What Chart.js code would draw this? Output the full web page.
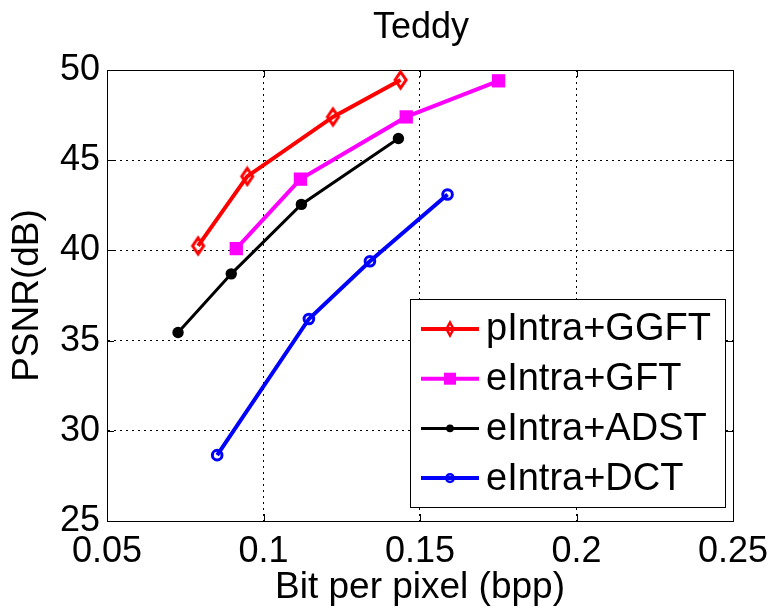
<!DOCTYPE html>
<html><head><meta charset="utf-8">
<script src="https://cdn.jsdelivr.net/npm/chart.js@4.4.1/dist/chart.umd.min.js"></script>
<style>html,body{margin:0;padding:0;background:#fff}#wrap{width:772px;height:608px}</style>
</head><body><div id="wrap"><canvas id="c" width="772" height="608"></canvas></div>
<script>
const chartTitle = 'Teddy';
const xTitle = 'Bit per pixel (bpp)';
const yTitle = 'PSNR(dB)';
const seriesNames = ['pIntra+GGFT', 'eIntra+GFT', 'eIntra+ADST', 'eIntra+DCT'];
const bppGGFT = [0.0791, 0.0948, 0.1222, 0.1438];
const psnrGGFT = [40.25, 44.1, 47.4, 49.45];
const bppGFT = [0.0913, 0.1118, 0.1456, 0.1751];
const psnrGFT = [40.1, 43.95, 47.4, 49.4];
const bppADST = [0.0727, 0.0897, 0.1121, 0.1431];
const psnrADST = [35.45, 38.7, 42.55, 46.2];
const bppDCT = [0.0852, 0.1145, 0.134, 0.1588];
const psnrDCT = [28.65, 36.2, 39.4, 43.1];
const xTickValues = [0.05, 0.1, 0.15, 0.2, 0.25];
const yTickValues = [25, 30, 35, 40, 45, 50];

const FONT = "'Liberation Sans', Arial, sans-serif";

function makeDiamond(w, h, lw, color) {
  const c = document.createElement('canvas');
  c.width = Math.ceil(w + lw * 2); c.height = Math.ceil(h + lw * 2);
  const g = c.getContext('2d');
  g.strokeStyle = color; g.lineWidth = lw;
  const cx = c.width / 2, cy = c.height / 2;
  g.beginPath();
  g.moveTo(cx, cy - h / 2); g.lineTo(cx + w / 2, cy); g.lineTo(cx, cy + h / 2); g.lineTo(cx - w / 2, cy);
  g.closePath(); g.stroke();
  return c;
}
const diamondBig = makeDiamond(11, 16, 3, '#ff0000');
const diamondSmall = makeDiamond(7, 13, 2.5, '#ff0000');

function pts(xs, ys) { return xs.map((x, i) => ({x: x, y: ys[i]})); }

const datasets = [
  {label: seriesNames[0], data: pts(bppGGFT, psnrGGFT), borderColor: '#ff0000', backgroundColor: 'transparent',
   borderWidth: 4, pointStyle: diamondBig, legendMarker: {type: 'img', img: diamondSmall}},
  {label: seriesNames[1], data: pts(bppGFT, psnrGFT), borderColor: '#ff00ff', backgroundColor: '#ff00ff',
   borderWidth: 4, pointStyle: 'rect', pointRadius: 9.4, pointBorderWidth: 0, pointBackgroundColor: '#ff00ff',
   legendMarker: {type: 'rect', size: 12, color: '#ff00ff'}},
  {label: seriesNames[2], data: pts(bppADST, psnrADST), borderColor: '#000000', backgroundColor: '#000000',
   borderWidth: 3, pointStyle: 'circle', pointRadius: 5.7, pointBorderWidth: 0, pointBackgroundColor: '#000000',
   legendMarker: {type: 'dot', r: 3.8, color: '#000000'}},
  {label: seriesNames[3], data: pts(bppDCT, psnrDCT), borderColor: '#0000ff', backgroundColor: 'transparent',
   borderWidth: 4, pointStyle: 'circle', pointRadius: 4.8, pointBorderWidth: 3, pointBackgroundColor: 'transparent',
   legendMarker: {type: 'ring', r: 3.8, lw: 2.5, color: '#0000ff'}}
];
datasets.forEach(d => { d.showLine = true; d.tension = 0; d.pointBorderColor = d.borderColor; d.clip = false; });

const framePlugin = {
  id: 'frame',
  beforeDatasetsDraw(chart) {
    const {ctx, chartArea: a, scales} = chart;
    ctx.save();
    ctx.strokeStyle = '#000'; ctx.lineWidth = 1;
    ctx.strokeRect(Math.round(a.left) + 0.5, Math.round(a.top) + 0.5, Math.round(a.right - a.left), Math.round(a.bottom - a.top));
    const tl = 7;
    ctx.beginPath();
    xTickValues.forEach(v => {
      const px = Math.round(scales.x.getPixelForValue(v)) + 0.5;
      ctx.moveTo(px, a.bottom); ctx.lineTo(px, a.bottom - tl);
      ctx.moveTo(px, a.top); ctx.lineTo(px, a.top + tl);
    });
    yTickValues.forEach(v => {
      const py = Math.round(scales.y.getPixelForValue(v)) + 0.5;
      ctx.moveTo(a.left, py); ctx.lineTo(a.left + tl, py);
      ctx.moveTo(a.right, py); ctx.lineTo(a.right - tl, py);
    });
    ctx.stroke();
    ctx.fillStyle = '#000';
    ctx.font = '36px ' + FONT;
    ctx.textAlign = 'center'; ctx.textBaseline = 'alphabetic';
    ctx.fillText(chartTitle, (a.left + a.right) / 2 + 1, 38);
    ctx.restore();
  },
  afterDraw(chart) {
    const {ctx, chartArea: a} = chart;
    const w = 315, h = 208;
    const L = Math.round(a.right - 8 - w), T = Math.round(a.bottom - 14 - h);
    ctx.save();
    ctx.fillStyle = '#fff';
    ctx.fillRect(L, T, w, h);
    ctx.strokeStyle = '#000'; ctx.lineWidth = 1;
    ctx.strokeRect(L + 0.5, T + 0.5, w, h);
    chart.data.datasets.forEach((d, i) => {
      const y = T + 30 + i * 49.7;
      ctx.strokeStyle = d.borderColor; ctx.lineWidth = d.borderWidth;
      ctx.beginPath(); ctx.moveTo(L + 11, y); ctx.lineTo(L + 69, y); ctx.stroke();
      const m = d.legendMarker, cx = L + 40;
      if (m.type === 'img') ctx.drawImage(m.img, cx - m.img.width / 2, y - m.img.height / 2);
      else if (m.type === 'rect') { ctx.fillStyle = m.color; ctx.fillRect(cx - m.size / 2, y - m.size / 2, m.size, m.size); }
      else if (m.type === 'dot') { ctx.fillStyle = m.color; ctx.beginPath(); ctx.arc(cx, y, m.r, 0, Math.PI * 2); ctx.fill(); }
      else if (m.type === 'ring') { ctx.strokeStyle = m.color; ctx.lineWidth = m.lw; ctx.beginPath(); ctx.arc(cx, y, m.r, 0, Math.PI * 2); ctx.stroke(); }
      ctx.fillStyle = '#000';
      ctx.font = '38px ' + FONT;
      ctx.textBaseline = 'middle'; ctx.textAlign = 'left';
      ctx.fillText(d.label, L + 76, y + 1);
    });
    ctx.restore();
  }
};

const gridColor = (ctx) => {
  const n = ctx.scale.ticks.length;
  return (ctx.index === 0 || ctx.index === n - 1) ? 'rgba(0,0,0,0)' : '#000';
};

new Chart(document.getElementById('c'), {
  type: 'scatter',
  data: {datasets: datasets},
  options: {
    responsive: false,
    animation: false,
    devicePixelRatio: 1,
    layout: {padding: {left: 0, right: 39, top: 70, bottom: 0}},
    plugins: {
      legend: {display: false},
      tooltip: {enabled: false},
      title: {display: false}
    },
    scales: {
      x: {
        type: 'linear', min: 0.05, max: 0.25,
        afterBuildTicks: s => { s.ticks = xTickValues.map(v => ({value: v})); },
        afterFit: s => { s.height = 87; s.paddingRight = 0; s.paddingLeft = 0; },
        ticks: {color: '#000', padding: 9, font: {family: FONT, size: 36}, callback: v => String(v), maxRotation: 0, autoSkip: false},
        grid: {color: gridColor, lineWidth: 1, drawTicks: false},
        border: {display: true, color: '#000', width: 1, dash: [2, 4]},
        title: {display: true, text: xTitle, color: '#000', font: {family: FONT, size: 37, lineHeight: 1}, padding: {top: 0, bottom: 2}}
      },
      y: {
        type: 'linear', min: 25, max: 50,
        afterBuildTicks: s => { s.ticks = yTickValues.map(v => ({value: v})); },
        afterFit: s => { s.width = 107; s.paddingTop = 0; s.paddingBottom = 0; },
        ticks: {color: '#000', padding: 7, font: {family: FONT, size: 36}, callback: v => String(v), autoSkip: false},
        grid: {color: gridColor, lineWidth: 1, drawTicks: false},
        border: {display: true, color: '#000', width: 1, dash: [2, 4]},
        title: {display: true, text: yTitle, color: '#000', font: {family: FONT, size: 37, lineHeight: 1}, padding: {top: 9, bottom: 0}}
      }
    }
  },
  plugins: [framePlugin]
});
</script>
</body></html>
